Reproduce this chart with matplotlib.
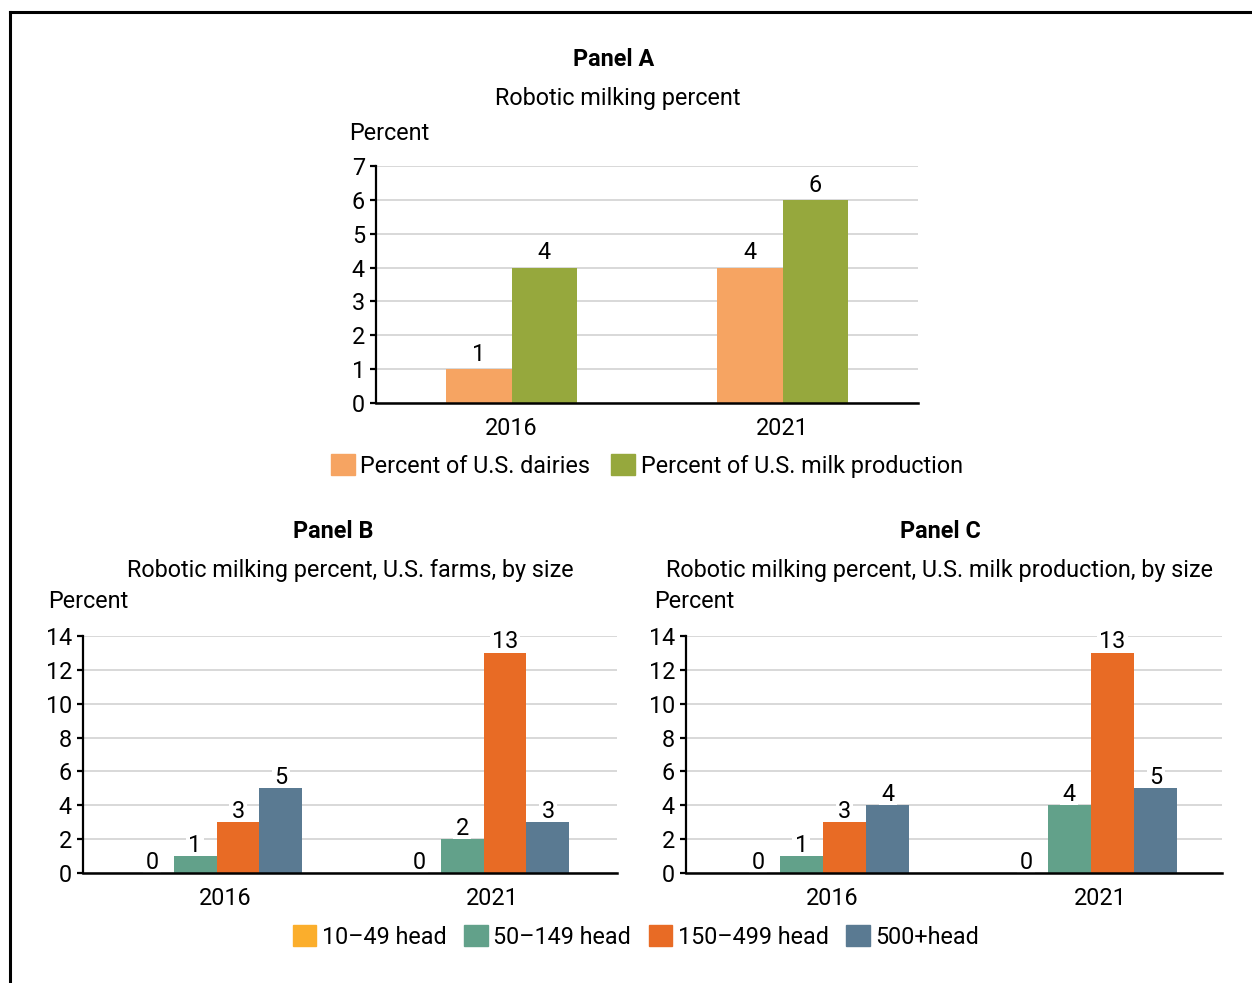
import numpy as np
import matplotlib
matplotlib.use('Agg')
import matplotlib.pyplot as plt
from matplotlib.lines import Line2D
from matplotlib.patches import Patch
from matplotlib.transforms import ScaledTranslation

plt.rcParams['font.family'] = ['Roboto', 'DejaVu Sans']

# Panel A data
years = ['2016', '2021']
pct_dairies = [1, 4]
pct_milk = [4, 6]

# Panels B and C data, by herd size
size_labels = ['10\u201349 head', '50\u2013149 head', '150\u2013499 head', '500+head']
farms_by_size = {
    '10\u201349 head': [0, 0],
    '50\u2013149 head': [1, 2],
    '150\u2013499 head': [3, 13],
    '500+head': [5, 3],
}
milk_by_size = {
    '10\u201349 head': [0, 0],
    '50\u2013149 head': [1, 4],
    '150\u2013499 head': [3, 13],
    '500+head': [4, 5],
}

A_COLOURS = ['#F6A462', '#96A83D']
SIZE_COLOURS = ['#FBAE2C', '#62A18A', '#E86B25', '#5A7A92']
GRID_COLOUR = '#d2d2d2'
FS = 16.8

W, H = 1252, 983
fig = plt.figure(figsize=(W / 100, H / 100), dpi=100)


def px_axes(left, right, top, bottom):
    return fig.add_axes([left / W, 1 - bottom / H, (right - left) / W, (bottom - top) / H])


def style_axes(ax, ymax, step, xlim=(-0.5, 1.5)):
    ax.set_ylim(0, ymax)
    ax.set_xlim(*xlim)
    ax.set_yticks(np.arange(0, ymax + 1, step))
    ax.yaxis.grid(True, color=GRID_COLOUR, linewidth=1.2)
    ax.set_axisbelow(True)
    for s in ['top', 'right']:
        ax.spines[s].set_visible(False)
    ax.spines['left'].set_linewidth(1.6)
    ax.spines['bottom'].set_linewidth(1.8)
    ax.spines['left'].set_zorder(5)
    ax.spines['bottom'].set_zorder(5)
    ax.tick_params(axis='y', direction='out', length=4, width=1.6, labelsize=FS, pad=4)
    ax.tick_params(axis='x', length=0, labelsize=FS, pad=10)


def value_label(ax, x, v, gap):
    # white box hides the gridline behind the number; bars sit on top of it
    ax.annotate(f'{v}', (x, v), xytext=(0, gap), textcoords='offset points',
                ha='center', va='baseline', fontsize=FS, zorder=2,
                bbox=dict(boxstyle='square,pad=0.1', fc='white', ec='none'))


# Panel A
axA = px_axes(376, 918, 166, 403)
style_axes(axA, 7, 1)
x = np.arange(len(years))
wA = 0.24
for i, (vals, col) in enumerate(zip([pct_dairies, pct_milk], A_COLOURS)):
    xs = x + (i - 0.5) * wA
    axA.bar(xs, vals, wA, color=col, zorder=3)
    for xi, v in zip(xs, vals):
        value_label(axA, xi, v, 6)
axA.set_xticks(x)
axA.set_xticklabels(years)

fig.text(614 / W, 1 - 59 / H, 'Panel A', ha='center', va='center', fontsize=FS, fontweight='bold')
fig.text(618 / W, 1 - 99 / H, 'Robotic milking percent', ha='center', va='center', fontsize=FS)
fig.text(349 / W, 1 - 133 / H, 'Percent', ha='left', va='center', fontsize=FS)

fig.legend([Patch(color=c) for c in A_COLOURS],
           ['Percent of U.S. dairies', 'Percent of U.S. milk production'],
           loc='center', bbox_to_anchor=(647 / W, 1 - 466 / H), ncol=2, frameon=False,
           fontsize=FS, handlelength=1.0, handleheight=1.0, handletextpad=0.25,
           columnspacing=0.9)


def size_panel(left, right, data, title, subtitle, tx, sx, px_, xlim):
    ax = px_axes(left, right, 636, 873)
    style_axes(ax, 14, 2, xlim)
    wB = 0.161
    for i, (lab, col) in enumerate(zip(size_labels, SIZE_COLOURS)):
        vals = data[lab]
        xs = x + (i - 1.5) * wB
        ax.bar(xs, vals, wB, color=col, zorder=3)
        for xi, v in zip(xs, vals):
            value_label(ax, xi, v, 3.2)
    ax.set_xticks(x)
    ax.set_xticklabels(years)
    for t in ax.get_xticklabels():
        t.set_transform(t.get_transform() + ScaledTranslation(0.09, 0, fig.dpi_scale_trans))
    fig.text(tx / W, 1 - 531 / H, title, ha='center', va='center', fontsize=FS, fontweight='bold')
    fig.text(sx / W, 1 - 570 / H, subtitle, ha='center', va='center', fontsize=FS)
    fig.text(px_ / W, 1 - 602 / H, 'Percent', ha='left', va='center', fontsize=FS)
    return ax


size_panel(83, 617, farms_by_size, 'Panel B',
           'Robotic milking percent, U.S. farms, by size', 333, 350, 48, (-0.5, 1.5))
size_panel(686, 1222, milk_by_size, 'Panel C',
           'Robotic milking percent, U.S. milk production, by size', 940, 940, 654,
           (-0.511, 1.489))

fig.legend([Patch(color=c) for c in SIZE_COLOURS], size_labels,
           loc='center', bbox_to_anchor=(636 / W, 1 - 937 / H), ncol=4, frameon=False,
           fontsize=FS, handlelength=1.0, handleheight=1.0, handletextpad=0.25,
           columnspacing=0.75)

# frame along top and left edges
fig.add_artist(Line2D([10 / W, 1], [1 - 12 / H, 1 - 12 / H], color='black', lw=2.2,
                      transform=fig.transFigure))
fig.add_artist(Line2D([10 / W, 10 / W], [0, 1 - 12 / H], color='black', lw=2.2,
                      transform=fig.transFigure))

fig.savefig('out.png', dpi=100, facecolor='white')
